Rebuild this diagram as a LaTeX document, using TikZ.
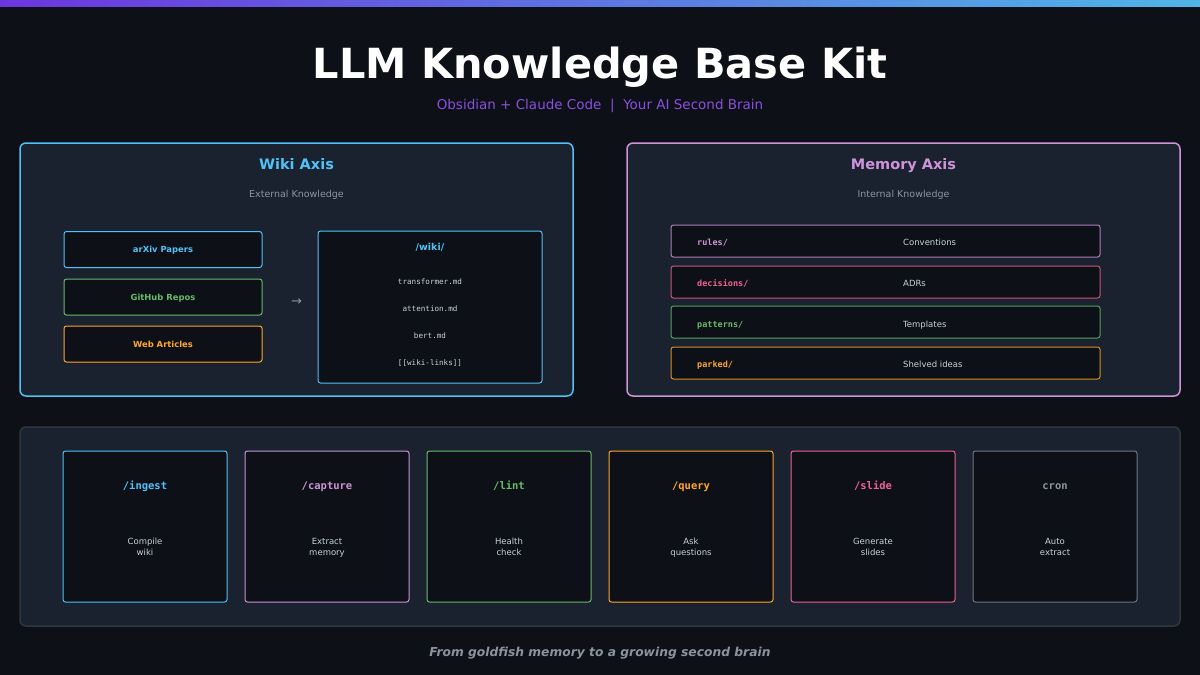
\documentclass[tikz,border=0pt]{standalone}
\usepackage{fontspec}
\setmainfont{DejaVu Sans}
\setsansfont{DejaVu Sans}
\setmonofont{DejaVu Sans Mono}
\definecolor{bg}{HTML}{0D1117}
\definecolor{panelfill}{HTML}{1A2230}
\definecolor{cblue}{HTML}{4FC3F7}
\definecolor{cpurple}{HTML}{CE93D8}
\definecolor{cgreen}{HTML}{66BB6A}
\definecolor{corange}{HTML}{FFA726}
\definecolor{cpink}{HTML}{F06292}
\definecolor{cgray}{HTML}{8B949E}
\definecolor{cgrayborder}{HTML}{6E7681}
\definecolor{pborder}{HTML}{30363D}
\definecolor{clight}{HTML}{C9D1D9}
\definecolor{subviolet}{HTML}{8A4FE0}
\definecolor{barleft}{HTML}{6C36DE}
\definecolor{barright}{HTML}{4FB6E6}
\tikzset{
  panel/.style={draw, line width=1.5pt, rounded corners=6pt, fill=panelfill, inner sep=0pt},
  inbox/.style={draw, line width=1pt, rounded corners=2.5pt, fill=bg, inner sep=0pt},
  srcbox/.style={inbox, minimum width=198, minimum height=36},
  rowbox/.style={inbox, minimum width=429, minimum height=32},
  card/.style={inbox, minimum width=164, minimum height=151},
  titletext/.style={text=white, text height=31.5pt, text depth=10pt, font={\fontsize{41.5}{48}\selectfont\bfseries}},
  subtext/.style={text=subviolet, text height=10.3pt, text depth=3.2pt, font={\fontsize{13.5}{16}\selectfont}},
  axistitle/.style={text height=11pt, text depth=3.5pt, font={\fontsize{14.5}{17}\selectfont\bfseries}},
  axissub/.style={text=cgray, text height=7.2pt, text depth=2.3pt, font={\fontsize{9.5}{11}\selectfont}},
  srctext/.style={text height=6.4pt, text depth=2pt, font={\fontsize{8.4}{10}\selectfont\bfseries}},
  filetext/.style={text=clight, text height=5.8pt, text depth=1.8pt, font={\ttfamily\fontsize{7.6}{9}\selectfont}},
  rowlabel/.style={anchor=west, inner sep=0pt, text height=6.5pt, text depth=2pt, font={\ttfamily\bfseries\fontsize{8.5}{10}\selectfont}},
  rowdesc/.style={anchor=west, inner sep=0pt, text=clight, text height=6.5pt, text depth=2pt, font={\fontsize{8.5}{10}\selectfont}},
  cardtitle/.style={text height=8pt, text depth=2.5pt, font={\ttfamily\bfseries\fontsize{10.5}{12}\selectfont}},
  carddesc/.style={align=center, text=clight, text height=17.5pt, text depth=2pt, font={\fontsize{8.5}{11}\selectfont}},
  footertext/.style={text=cgray, text height=9.3pt, text depth=3pt, font={\fontsize{12.3}{14}\selectfont\bfseries\itshape}}
}
\begin{document}
\begin{tikzpicture}[x=1pt, y=-1pt]
\useasboundingbox (0,0) rectangle (1200,675);
\fill[bg] (0,0) rectangle (1200,675);
\shade[left color=barleft, right color=barright] (0,0) rectangle (1200,6);

% title
\node[titletext] (title) at (600,67.5) {LLM Knowledge Base Kit};
\node[subtext] (subtitle) at (600,105.5) {Obsidian + Claude Code \ | \ Your AI Second Brain};

% Wiki axis panel
\node[panel, draw=cblue, minimum width=553, minimum height=253] (wikipanel) at (296.5,269.5) {};
\node[axistitle, text=cblue] (wikititle) at (296.5,165.5) {Wiki Axis};
\node[axissub] (wikisub) at (296.5,195) {External Knowledge};
\node[srcbox, draw=cblue] (arxiv) at (163,249.5) {};
\node[srctext, text=cblue, yshift=-1pt] (arxivt) at (arxiv.center) {arXiv Papers};
\node[srcbox, draw=cgreen] (github) at (163,297) {};
\node[srctext, text=cgreen, yshift=-1pt] (githubt) at (github.center) {GitHub Repos};
\node[srcbox, draw=corange] (web) at (163,344) {};
\node[srctext, text=corange, yshift=-1pt] (webt) at (web.center) {Web Articles};
\node[text=cgray, font={\fontsize{13}{15}\selectfont}] (arrow) at (296.5,302.5) {→};
\node[inbox, draw=cblue, minimum width=224, minimum height=152] (wikibox) at (430,307) {};
\node[text=cblue, text height=7.2pt, text depth=2.3pt, font={\fontsize{9.5}{11}\selectfont\bfseries}] (wikidir) at (430,248.5) {/wiki/};
\node[filetext] (f1) at (430,282.5) {transformer.md};
\node[filetext] (f2) at (430,309.5) {attention.md};
\node[filetext] (f3) at (430,336.5) {bert.md};
\node[filetext] (f4) at (430,363.5) {[[wiki-links]]};

% Memory axis panel
\node[panel, draw=cpurple, minimum width=553, minimum height=253] (mempanel) at (903.5,269.5) {};
\node[axistitle, text=cpurple] (memtitle) at (903.5,165.5) {Memory Axis};
\node[axissub] (memsub) at (903.5,195) {Internal Knowledge};
\node[rowbox, draw=cpurple!85!black] (rules) at (885.5,241) {};
\node[rowlabel, text=cpurple] (rulesl) at (697,243.5) {rules/};
\node[rowdesc] (rulesd) at (903,243.5) {Conventions};
\node[rowbox, draw=cpink!85!black] (decisions) at (885.5,282) {};
\node[rowlabel, text=cpink] (decisionsl) at (697,284.5) {decisions/};
\node[rowdesc] (decisionsd) at (903,284.5) {ADRs};
\node[rowbox, draw=cgreen!85!black] (patterns) at (885.5,322) {};
\node[rowlabel, text=cgreen] (patternsl) at (697,325) {patterns/};
\node[rowdesc] (patternsd) at (903,325) {Templates};
\node[rowbox, draw=corange!85!black] (parked) at (885.5,363) {};
\node[rowlabel, text=corange] (parkedl) at (697,365.5) {parked/};
\node[rowdesc] (parkedd) at (903,365.5) {Shelved ideas};

% Commands panel
\node[panel, draw=pborder, minimum width=1160, minimum height=199] (cmdpanel) at (600,526.5) {};
\foreach \nm/\cx/\col in {ingest/145/cblue, capture/327/cpurple, lint/509/cgreen,
  query/691/corange, slide/873/cpink, cron/1055/cgrayborder} {
  \node[card, draw=\col] (\nm) at (\cx,526.5) {};
}
\node[cardtitle, text=cblue] (ingestt) at (145,487) {/ingest};
\node[carddesc] (ingestd) at (145,547.5) {Compile\\wiki};
\node[cardtitle, text=cpurple] (capturet) at (327,487) {/capture};
\node[carddesc] (captured) at (327,547.5) {Extract\\memory};
\node[cardtitle, text=cgreen] (lintt) at (509,487) {/lint};
\node[carddesc] (lintd) at (509,547.5) {Health\\check};
\node[cardtitle, text=corange] (queryt) at (691,487) {/query};
\node[carddesc] (queryd) at (691,547.5) {Ask\\questions};
\node[cardtitle, text=cpink] (slidet) at (873,487) {/slide};
\node[carddesc] (slided) at (873,547.5) {Generate\\slides};
\node[cardtitle, text=cgray] (cront) at (1055,487) {cron};
\node[carddesc] (crond) at (1055,547.5) {Auto\\extract};

% footer
\node[footertext] (footer) at (600,653) {From goldfish memory to a growing second brain};
\end{tikzpicture}
\end{document}
